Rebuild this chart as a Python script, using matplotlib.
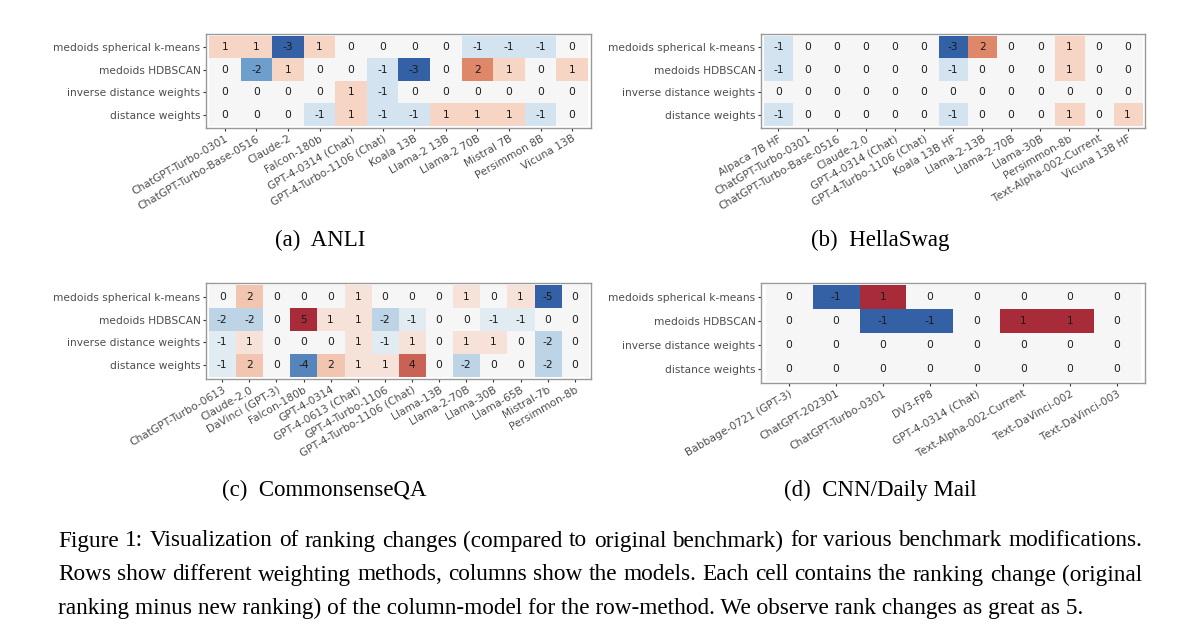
import matplotlib
matplotlib.use('Agg')
import matplotlib.pyplot as plt
import matplotlib.colors as mcolors
import numpy as np

methods = ['medoids spherical k-means', 'medoids HDBSCAN',
           'inverse distance weights', 'distance weights']

# (a) ANLI
anli_models = ['ChatGPT-Turbo-0301', 'ChatGPT-Turbo-Base-0516', 'Claude-2', 'Falcon-180b',
               'GPT-4-0314 (Chat)', 'GPT-4-Turbo-1106 (Chat)', 'Koala 13B', 'Llama-2 13B',
               'Llama-2 70B', 'Mistral 7B', 'Persimmon 8B', 'Vicuna 13B']
anli_values = [
    [1, 1, -3, 1, 0, 0, 0, 0, -1, -1, -1, 0],
    [0, -2, 1, 0, 0, -1, -3, 0, 2, 1, 0, 1],
    [0, 0, 0, 0, 1, -1, 0, 0, 0, 0, 0, 0],
    [0, 0, 0, -1, 1, -1, -1, 1, 1, 1, -1, 0],
]

# (b) HellaSwag
hella_models = ['Alpaca 7B HF', 'ChatGPT-Turbo-0301', 'ChatGPT-Turbo-Base-0516', 'Claude-2.0',
                'GPT-4-0314 (Chat)', 'GPT-4-Turbo-1106 (Chat)', 'Koala 13B HF', 'Llama-2-13B',
                'Llama-2-70B', 'Llama-30B', 'Persimmon-8b', 'Text-Alpha-002-Current', 'Vicuna 13B HF']
hella_values = [
    [-1, 0, 0, 0, 0, 0, -3, 2, 0, 0, 1, 0, 0],
    [-1, 0, 0, 0, 0, 0, -1, 0, 0, 0, 1, 0, 0],
    [0, 0, 0, 0, 0, 0, 0, 0, 0, 0, 0, 0, 0],
    [-1, 0, 0, 0, 0, 0, -1, 0, 0, 0, 1, 0, 1],
]

# (c) CommonsenseQA
csqa_models = ['ChatGPT-Turbo-0613', 'Claude-2.0', 'DaVinci (GPT-3)', 'Falcon-180b', 'GPT-4-0314',
               'GPT-4-0613 (Chat)', 'GPT-4-Turbo-1106', 'GPT-4-Turbo-1106 (Chat)', 'Llama-13B',
               'Llama-2-70B', 'Llama-30B', 'Llama-65B', 'Mistral-7b', 'Persimmon-8b']
csqa_values = [
    [0, 2, 0, 0, 0, 1, 0, 0, 0, 1, 0, 1, -5, 0],
    [-2, -2, 0, 5, 1, 1, -2, -1, 0, 0, -1, -1, 0, 0],
    [-1, 1, 0, 0, 0, 1, -1, 1, 0, 1, 1, 0, -2, 0],
    [-1, 2, 0, -4, 2, 1, 1, 4, 0, -2, 0, 0, -2, 0],
]

# (d) CNN/Daily Mail
cnn_models = ['Babbage-0721 (GPT-3)', 'ChatGPT-202301', 'ChatGPT-Turbo-0301', 'DV3-FP8',
              'GPT-4-0314 (Chat)', 'Text-Alpha-002-Current', 'Text-DaVinci-002', 'Text-DaVinci-003']
cnn_values = [
    [0, -1, 1, 0, 0, 0, 0, 0],
    [0, 0, -1, -1, 0, 1, 1, 0],
    [0, 0, 0, 0, 0, 0, 0, 0],
    [0, 0, 0, 0, 0, 0, 0, 0],
]

subcaptions = ['(a)  ANLI', '(b)  HellaSwag', '(c)  CommonsenseQA', '(d)  CNN/Daily Mail']
caption_lines = [
    'Figure 1: Visualization of ranking changes (compared to original benchmark) for various benchmark modifications.',
    'Rows show different weighting methods, columns show the models. Each cell contains the ranking change (original',
    'ranking minus new ranking) of the column-model for the row-method. We observe rank changes as great as 5.',
]

W, H = 1200, 644
fig = plt.figure(figsize=(W / 100, H / 100), dpi=100)

# axes boxes in pixels: left, top, right, bottom
boxes = [(206, 34, 591, 128), (761, 34, 1145, 128),
         (206, 283, 591, 379), (761, 283, 1145, 383)]
panels = [(anli_models, anli_values), (hella_models, hella_values),
          (csqa_models, csqa_values), (cnn_models, cnn_values)]

# diverging map, pale in the middle like the original
cmap = mcolors.LinearSegmentedColormap.from_list('div', [
    '#3461a6', '#6f9fcc', '#d3e3ef', '#f7f7f7', '#f6d5c4', '#e08a6a', '#a72b38'])

label_color = '#4d4d4d'
fs = 7.65


def heatmap(ax, models, values):
    data = np.array(values)
    vmax = np.abs(data).max()
    n_rows, n_cols = data.shape
    ax.imshow(data, cmap=cmap, vmin=-vmax, vmax=vmax, aspect='auto',
              extent=(-0.5, n_cols - 0.5, n_rows - 0.5, -0.5))
    for i in range(n_rows):
        for j in range(n_cols):
            ax.text(j, i, str(data[i, j]), ha='center', va='center',
                    fontsize=fs, color='#1a1a1a')
    ax.set_xlim(-0.6, n_cols - 0.4)
    ax.set_ylim(n_rows - 0.4, -0.6)
    ax.set_xticks(range(n_cols))
    ax.set_xticklabels(models, rotation=30, ha='right', va='top',
                       rotation_mode='anchor', fontsize=fs, color=label_color)
    ax.set_yticks(range(n_rows))
    ax.set_yticklabels(methods, fontsize=fs, color=label_color)
    ax.tick_params(length=2.5, width=0.8, color='#333333', pad=1.5)
    ax.set_facecolor('white')
    for s in ax.spines.values():
        s.set_color('#999999')
        s.set_linewidth(1.0)


for (l, t, r, b), (models, values) in zip(boxes, panels):
    ax = fig.add_axes([l / W, 1 - b / H, (r - l) / W, (b - t) / H])
    heatmap(ax, models, values)

serif = ['Liberation Serif', 'DejaVu Serif']
cap_fs = 16.75

sub_pos = [(320, 240), (880, 240), (324, 490), (880, 490)]
for (x, y), s in zip(sub_pos, subcaptions):
    fig.text(x / W, 1 - y / H, s, ha='center', va='center', family=serif, fontsize=16.5)

# caption, first two lines justified between x0 and x1
x0, x1 = 58, 1142
line_y = [541, 575, 608]
renderer = fig.canvas.get_renderer()
for k, (line, y) in enumerate(zip(caption_lines, line_y)):
    if k == len(caption_lines) - 1:
        fig.text(x0 / W, 1 - y / H, line, ha='left', va='center', family=serif, fontsize=cap_fs)
        continue
    words = line.split(' ')
    texts = [fig.text(0, 1 - y / H, w_, ha='left', va='center', family=serif, fontsize=cap_fs)
             for w_ in words]
    widths = [t_.get_window_extent(renderer).width for t_ in texts]
    gap = ((x1 - x0) - sum(widths)) / (len(words) - 1)
    x = x0
    for t_, w_ in zip(texts, widths):
        t_.set_x(x / W)
        x += w_ + gap

fig.savefig('out.png', dpi=100)
